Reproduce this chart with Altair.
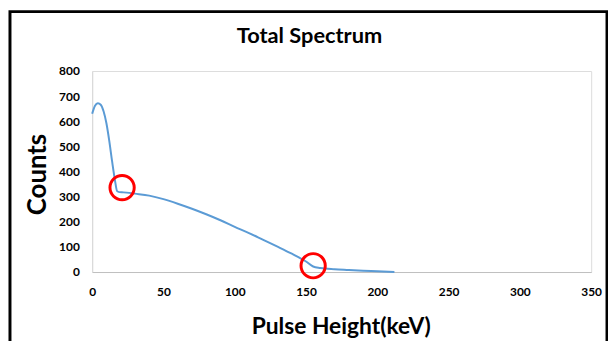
import altair as alt
import pandas as pd

energy = [0, 2, 4, 6, 8, 10, 12, 14, 16, 17.5, 19, 22, 26, 30, 40, 50, 60, 70, 80, 90, 100, 110,
          120, 130, 140, 150, 155, 160, 170, 180, 190, 200, 212]
counts = [630, 662, 672, 666, 640, 592, 522, 440, 365, 322, 318, 317, 315, 312, 304, 290, 272, 252,
          230, 206, 180, 155, 128, 101, 73, 42, 22, 16, 11, 8, 5, 3, 0]

circle_x = [21, 155]
circle_y = [336, 25]

title_text = "Total Spectrum"
x_title = "Pulse Height(keV)"
y_title = "Counts"
x_ticks = [0, 50, 100, 150, 200, 250, 300, 350]
y_ticks = [0, 100, 200, 300, 400, 500, 600, 700, 800]

FONT = "Lato"

df = pd.DataFrame({"energy": energy, "counts": counts})
dc = pd.DataFrame({"energy": circle_x, "counts": circle_y})
dt = pd.DataFrame({"t": [title_text]})

xs = alt.Scale(domain=[0, 350], nice=False, zero=False)
ys = alt.Scale(domain=[0, 800], nice=False)

xax = alt.Axis(values=x_ticks, grid=False, ticks=False, domainColor="#bfbfbf", domainWidth=1,
               labelFont=FONT, labelFontSize=12, labelFontWeight="bold", labelColor="#000000",
               labelBaseline="alphabetic", labelPadding=24, labelFlush=False, labelOverlap=False,
               title=x_title, titleFont=FONT, titleFontSize=23, titleFontWeight="bold",
               titleColor="#000000", titleBaseline="alphabetic", titleAlign="center",
               titleX=251, titleY=62)
yax = alt.Axis(values=y_ticks, grid=False, ticks=False, domainColor="#d9d9d9", domainWidth=1,
               labelFont=FONT, labelFontSize=12, labelFontWeight="bold", labelColor="#000000",
               labelPadding=13, labelFlush=False, labelOverlap=False, title=y_title,
               titleFont=FONT, titleFontSize=26, titleFontWeight="bold", titleColor="#000000",
               titleBaseline="alphabetic", titleAlign="center", titleX=-47, titleY=104)

line = alt.Chart(df).mark_line(color="#5b9bd5", strokeWidth=2, interpolate="monotone").encode(
    x=alt.X("energy:Q", scale=xs, axis=xax),
    y=alt.Y("counts:Q", scale=ys, axis=yax),
)

circles = alt.Chart(dc).mark_point(shape="circle", size=600, filled=False, color="#ff0000",
                                   strokeWidth=3, opacity=1).encode(
    x=alt.X("energy:Q", scale=xs, axis=xax),
    y=alt.Y("counts:Q", scale=ys, axis=yax),
)

border = alt.Chart(pd.DataFrame({"a": [0]})).mark_rect(filled=False, stroke="#000000",
                                                       strokeWidth=3).encode(
    x=alt.value(-83), x2=alt.value(520), y=alt.value(-60), y2=alt.value(400)
)

title = alt.Chart(dt).mark_text(font=FONT, fontSize=22, fontWeight="bold", color="#000000",
                                align="center", baseline="alphabetic").encode(
    text="t:N", x=alt.value(219.5), y=alt.value(-28)
)

chart = alt.layer(border, line, circles, title).properties(
    width=504,
    height=203,
    autosize=alt.AutoSizeParams(type="none"),
    padding={"left": 85, "top": 62, "right": 17, "bottom": 68},
).configure_view(stroke=None).configure(background="#ffffff")

chart.save("out.html", embed_options={"renderer": "svg", "actions": False})
